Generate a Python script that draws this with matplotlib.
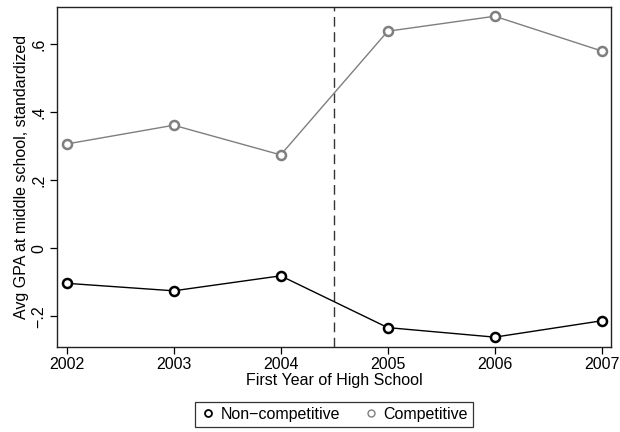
import matplotlib
matplotlib.use("Agg")
import matplotlib.pyplot as plt
from matplotlib.lines import Line2D

plt.rcParams["font.family"] = ["Liberation Sans", "DejaVu Sans"]

years = [2002, 2003, 2004, 2005, 2006, 2007]
non_competitive = [-0.103, -0.125, -0.081, -0.233, -0.261, -0.213]
competitive = [0.306, 0.361, 0.274, 0.637, 0.681, 0.579]
cutoff_year = 2004.5

ytick_vals = [-0.2, 0.0, 0.2, 0.4, 0.6]
ytick_labels = ["\u2212.2", "0", ".2", ".4", ".6"]

GREY = "#7f7f7f"
FS = 11.5

fig = plt.figure(figsize=(6.2, 4.32), dpi=100)
ax = fig.add_axes([0.0919, 0.1975, 0.8936, 0.787])

ax.plot(years, non_competitive, color="black", lw=1.0, marker="o",
        markersize=6.5, markerfacecolor="white", markeredgecolor="black",
        markeredgewidth=1.8, zorder=3)
ax.plot(years, competitive, color=GREY, lw=1.0, marker="o",
        markersize=6.5, markerfacecolor="white", markeredgecolor=GREY,
        markeredgewidth=1.8, zorder=3)

ax.axvline(cutoff_year, color="#333333", lw=1.0, linestyle=(0, (7, 4)),
           zorder=2)

ax.set_xlim(2001.909, 2007.087)
ax.set_ylim(-0.289, 0.709)
ax.set_xticks(years)
ax.set_xticklabels([str(y) for y in years], fontsize=FS)
ax.set_yticks(ytick_vals)
ax.set_yticklabels(ytick_labels, fontsize=FS, rotation=90, va="center")
ax.tick_params(direction="out", length=5, width=0.9, pad=2.5)
for s in ax.spines.values():
    s.set_linewidth(1.0)
    s.set_color("#222222")

ax.set_xlabel("First Year of High School", fontsize=FS, labelpad=0.5)
ax.set_ylabel("Avg GPA at middle school, standardized", fontsize=FS,
              labelpad=2)

handles = [
    Line2D([], [], linestyle="none", marker="o", markersize=5,
           markerfacecolor="white", markeredgecolor="black",
           markeredgewidth=1.3, label="Non\u2212competitive"),
    Line2D([], [], linestyle="none", marker="o", markersize=5,
           markerfacecolor="white", markeredgecolor=GREY,
           markeredgewidth=1.0, label="Competitive"),
]
leg = fig.legend(handles=handles, loc="center", ncol=2,
                 bbox_to_anchor=(0.5387, 0.0405), fontsize=FS, frameon=True,
                 fancybox=False, edgecolor="black", handletextpad=0.3,
                 columnspacing=1.4, handlelength=1.0, borderpad=0.3)
leg.get_frame().set_linewidth(0.9)

fig.savefig("out.png", dpi=100)
